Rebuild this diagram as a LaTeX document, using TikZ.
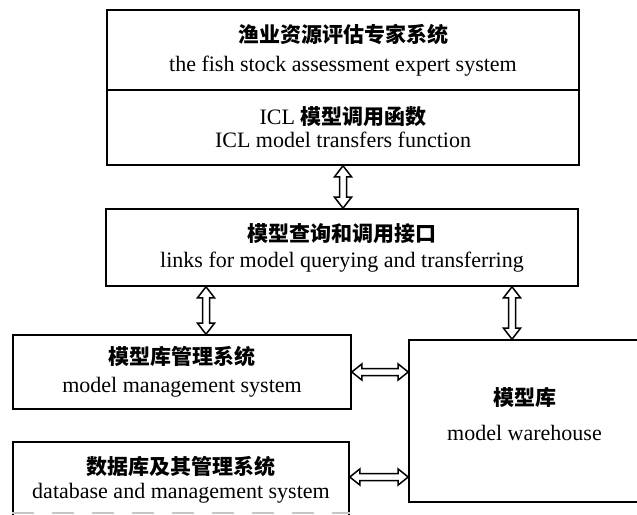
\documentclass[tikz,border=0pt]{standalone}
\usepackage{fontspec}
\setmainfont{Liberation Serif}
\newfontfamily\cjk{Noto Sans CJK SC}
\usetikzlibrary{calc}
\newcommand\zhtext[1]{{\cjk\bfseries\fontsize{10.5}{14}\selectfont #1}}
\newcommand\vdarrow[2]{%
  \draw[hollowarrow] (#1) -- ($(#1)+(-8.5,11)$) -- ($(#1)+(-3.5,11)$) -- ($(#2)+(-3.5,-11)$)
    -- ($(#2)+(-8.5,-11)$) -- (#2) -- ($(#2)+(8.5,-11)$) -- ($(#2)+(3.5,-11)$)
    -- ($(#1)+(3.5,11)$) -- ($(#1)+(8.5,11)$) -- cycle;}
\newcommand\hdarrow[2]{%
  \draw[hollowarrow] (#1) -- ($(#1)+(10,-8)$) -- ($(#1)+(10,-3.5)$) -- ($(#2)+(-10,-3.5)$)
    -- ($(#2)+(-10,-8)$) -- (#2) -- ($(#2)+(-10,8)$) -- ($(#2)+(-10,3.5)$)
    -- ($(#1)+(10,3.5)$) -- ($(#1)+(10,8)$) -- cycle;}
\tikzset{
  box/.style={draw, line width=0.8pt, inner sep=0pt, align=center,
    font=\fontsize{11}{14}\selectfont},
  hollowarrow/.style={draw, line width=0.75pt, fill=white, line join=miter},
  label/.style={inner sep=0pt, align=center, font=\fontsize{11}{14}\selectfont},
}
\begin{document}
\begin{tikzpicture}[x=0.5pt,y=-0.5pt]
\useasboundingbox (0,0) rectangle (637,514);
\clip (0,0) rectangle (637,514);
\fill[white] (0,0) rectangle (637,514);

\node[box, minimum width=236pt, minimum height=40pt] (top1) at (343,50)
  {\zhtext{渔业资源评估专家系统}\\[0.5pt] the fish stock assessment expert system};
\node[box, minimum width=236pt, minimum height=37.5pt] (top2) at (343,127.5)
  {ICL \zhtext{模型调用函数}\\[-2.5pt] ICL model transfers function};
\node[box, minimum width=236pt, minimum height=38.5pt] (mid) at (342,247.5)
  {\zhtext{模型查询和调用接口}\\[-1pt] links for model querying and transferring};
\node[box, minimum width=169pt, minimum height=37pt] (mms) at (182,372)
  {\zhtext{模型库管理系统}\\[0pt] model management system};
\node[box, minimum width=168pt, minimum height=38pt] (db) at (181,480)
  {\zhtext{数据库及其管理系统}\\[-2pt] database and management system};
\node[box, minimum width=119.5pt, minimum height=81pt] (wh) at (528.5,421) {};
\node[label] (whtext) at (524.5,414) {\zhtext{模型库}\\[3.5pt] model warehouse};

\coordinate (lx) at (206,0);
\coordinate (rx) at (512,0);
\coordinate (hy) at (0,477);
\coordinate (bot) at (0,512.5);

\vdarrow{top2.south}{mid.north -| top2.south}
\vdarrow{mid.south -| lx}{mms.north -| lx}
\vdarrow{mid.south -| rx}{wh.north -| rx}
\hdarrow{mms.east}{mms.east -| wh.west}
\hdarrow{db.east |- hy}{wh.west |- hy}

\draw[gray!45, line width=1pt, dash pattern=on 11pt off 9pt] (db.west |- bot) -- (db.east |- bot);
\end{tikzpicture}
\end{document}
